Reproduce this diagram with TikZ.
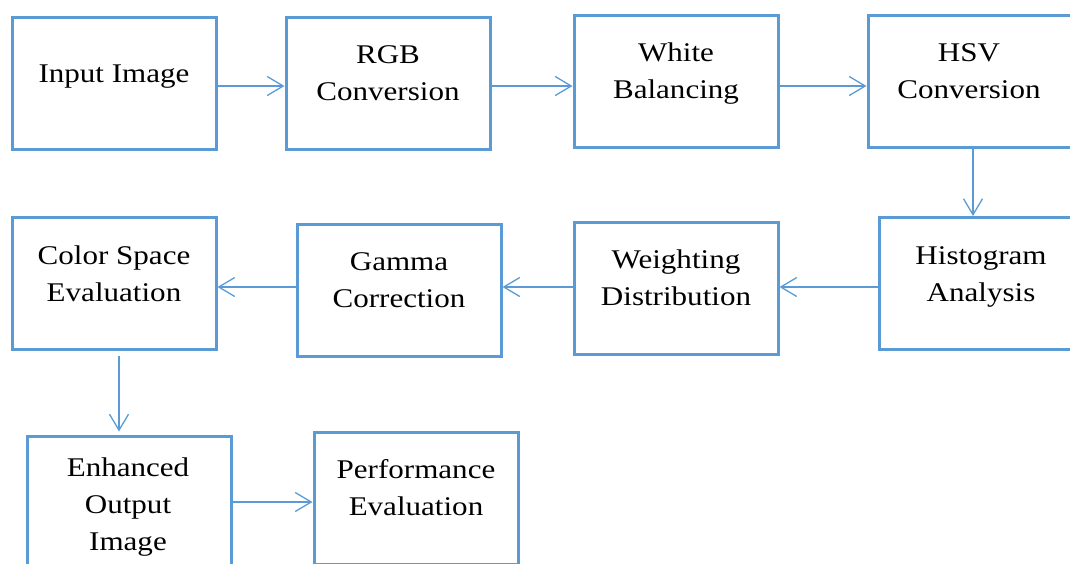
\documentclass[tikz,border=0pt]{standalone}
\usepackage{fontspec}
\setmainfont[FakeStretch=1.15]{Liberation Serif}
\usetikzlibrary{arrows.meta}
\definecolor{boxblue}{HTML}{5B9BD5}
\tikzset{
  box/.style={draw=boxblue, line width=3pt, minimum width=204pt, minimum height=132pt, inner sep=0pt, fill=none},
  lbl/.style={anchor=base, inner sep=0pt, font=\fontsize{27}{37}\selectfont},
  arr/.style={draw=boxblue, line width=1.3pt, -{Straight Barb[length=16pt,width=19pt,line width=1.3pt]}}
}
\newcommand{\twol}[2]{\begin{tabular}[t]{@{}c@{}}#1\\#2\end{tabular}}
\newcommand{\threel}[3]{\begin{tabular}[t]{@{}c@{}}#1\\#2\\#3\end{tabular}}
\begin{document}
\begin{tikzpicture}[x=1pt,y=-1pt]
\useasboundingbox (0,0) rectangle (1070,563);
\clip (0,0) rectangle (1070,563);
% boxes
\node[box] (b1) at (114,83) {};
\node[box] (b2) at (388,83) {};
\node[box] (b3) at (676,81) {};
\node[box] (b4) at (970,81) {};
\node[box] (b5) at (981,283.5) {};
\node[box] (b6) at (676,288) {};
\node[box] (b7) at (399,290) {};
\node[box] (b8) at (114,283.5) {};
\node[box] (b9) at (129,502) {};
\node[box] (b10) at (416,498) {};
% labels
\node[lbl] (t1) at (114,82) {Input Image};
\node[lbl] (t2) at (388,63) {\twol{RGB}{Conversion}};
\node[lbl] (t3) at (676,61) {\twol{White}{Balancing}};
\node[lbl] (t4) at (969,61) {\twol{HSV}{Conversion}};
\node[lbl] (t5) at (981,264) {\twol{Histogram}{Analysis}};
\node[lbl] (t6) at (676,268) {\twol{Weighting}{Distribution}};
\node[lbl] (t7) at (399,270) {\twol{Gamma}{Correction}};
\node[lbl] (t8) at (114,264) {\twol{Color Space}{Evaluation}};
\node[lbl] (t9) at (128,476) {\threel{Enhanced}{Output}{Image}};
\node[lbl] (t10) at (416,478) {\twol{Performance}{Evaluation}};
% connectors
\draw[arr] ([yshift=-3pt]b1.east) -- ([yshift=-3pt]b1.east -| b2.west);
\draw[arr] ([yshift=-3pt]b2.east) -- ([yshift=-3pt]b2.east -| b3.west);
\draw[arr] ([yshift=-5pt]b3.east) -- ([yshift=-5pt]b3.east -| b4.west);
\draw[arr] ([xshift=3pt]b4.south) -- ([xshift=3pt]b4.south |- b5.north);
\draw[arr] ([yshift=-3.5pt]b5.west) -- ([yshift=-3.5pt]b5.west -| b6.east);
\draw[arr] ([yshift=1pt]b6.west) -- ([yshift=1pt]b6.west -| b7.east);
\draw[arr] ([yshift=3pt]b7.west) -- ([yshift=3pt]b7.west -| b8.east);
\draw[arr, shorten <=5pt, shorten >=3pt] ([xshift=5pt]b8.south) -- ([xshift=5pt]b8.south |- b9.north);
\draw[arr] (b9.east) -- (b9.east -| b10.west);
\end{tikzpicture}
\end{document}
